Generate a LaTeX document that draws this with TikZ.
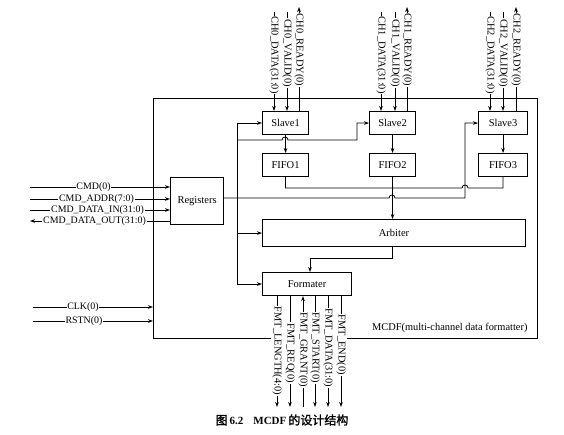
\documentclass[tikz,border=0pt]{standalone}
\usepackage{fontspec}
\setmainfont{Liberation Serif}
\newfontfamily\cjk{Noto Sans CJK SC}[FakeBold=1.5]
\usetikzlibrary{arrows.meta,calc}
\begin{document}
\begin{tikzpicture}[x=1pt,y=-1pt,
  blk/.style={draw, line width=1.1pt, inner sep=0pt, anchor=north west, font=\fontsize{10.5}{12}\selectfont},
  sig/.style={line width=0.8pt},
  arr/.style={sig,-{Stealth[length=5pt,width=3.6pt]}},
  rarr/.style={sig,{Stealth[length=5pt,width=3.6pt]}-},
  vlab/.style={rotate=-90, fill=white, inner sep=0.8pt, font=\fontsize{10.4}{12}\selectfont},
  hlab/.style={fill=white, inner sep=0.8pt, font=\fontsize{9.9}{12}\selectfont},
]
\useasboundingbox (0,0) rectangle (564,434);

% outer MCDF box (bottom edge broken by the FMT labels)
\draw[line width=0.9pt] (272,338) -- (153,338) -- (153,98) -- (537,98) -- (537,338) -- (345,338);
\coordinate (mcdfL) at (153,314);
\node[anchor=east, font=\fontsize{10.4}{12}\selectfont] (mcdflab) at (531,328) {MCDF(multi-channel data formatter)};

% blocks
\node[blk, minimum width=46pt, minimum height=23pt] (s1) at (262,111) {Slave1};
\node[blk, minimum width=46pt, minimum height=23pt] (s2) at (369,111) {Slave2};
\node[blk, minimum width=49pt, minimum height=23pt] (s3) at (478,111) {Slave3};
\node[blk, minimum width=46pt, minimum height=23pt] (f1) at (262,153) {FIFO1};
\node[blk, minimum width=46pt, minimum height=23pt] (f2) at (369,153) {FIFO2};
\node[blk, minimum width=49pt, minimum height=23pt] (f3) at (478,153) {FIFO3};
\node[blk, minimum width=53pt, minimum height=47pt] (reg) at (170,177) {Registers};
\node[blk, minimum width=263pt, minimum height=27pt] (arb) at (262,219) {Arbiter};
\node[blk, minimum width=89pt, minimum height=23pt] (fmt) at (262,272) {Formater};

% Slave -> FIFO
\draw[arr] (s1.south) -- (f1.north);
\draw[arr] (s2.south) -- (f2.north);
\draw[arr] (s3.south) -- (f3.north);

% FIFO outputs -> Arbiter
\coordinate (fj) at (f2.south |- 0,188);
\draw[sig] (f1.south) -- (f1.south |- fj) -- (462,188) .. controls (462,184) and (468,184) .. (468,188) -- (f3.south |- fj) -- (f3.south);
\draw[arr] (f2.south) -- (f2.south |- arb.north);

% control bus from Registers
\coordinate (bt) at (237,123);
\coordinate (bb) at (237,284);
\coordinate (rr) at (465,198);
\draw[arr] (bb) -- (bt) -- (s1.west |- bt);
\draw[arr] (bt |- arb.west) -- (arb.west);
\draw[arr] (bb) -- (fmt.west |- bb);
\draw[arr] (reg.east |- rr) -- (389,198) .. controls (389,194) and (395,194) .. (395,198) -- (rr) -- (rr |- s3.west) -- (s3.west);
\coordinate (s2r) at (357,140);
\draw[arr] (bt |- s2r) -- (282,140) .. controls (282,136) and (288,136) .. (288,140) -- (s2r) -- (s2r |- s2.west) -- (s2.west);

% Arbiter -> Formater
\coordinate (af) at (310,258);
\draw[arr] (arb.south -| 392,0) -- (392,258) -- (af) -- (af |- fmt.north);

% top channel signals
\foreach \n/\s/\dx/\vx/\rx in {0/s1/274/287/299, 1/s2/381/395/407, 2/s3/490/503/516} {
  \coordinate (chd\n) at (\dx,12);
  \coordinate (chv\n) at (\vx,12);
  \coordinate (chr\n) at (\rx,7);
  \draw[arr] (chd\n) -- (chd\n |- \s.north);
  \draw[arr] (chv\n) -- (chv\n |- \s.north);
  \draw[arr] (chr\n |- \s.north) -- (chr\n);
  \node[vlab] (lchd\n) at (\dx,55) {CH\n\_DATA(31:0)};
  \node[vlab] (lchv\n) at (\vx,53) {CH\n\_VALID(0)};
  \node[vlab] (lchr\n) at (\rx,50) {CH\n\_READY(0)};
}

% left command interface
\coordinate (c1) at (30,187);
\coordinate (c2) at (30,199);
\coordinate (c3) at (30,210);
\coordinate (c4) at (30,221);
\draw[arr] (c1) -- (c1 -| reg.west);
\draw[arr] (c2) -- (c2 -| reg.west);
\draw[arr] (c3) -- (c3 -| reg.west);
\draw[arr] (c4 -| reg.west) -- (c4);
\node[hlab] (lc1) at (93.5,187) {CMD(0)};
\node[hlab] (lc2) at (96.5,199) {CMD\_ADDR(7:0)};
\node[hlab] (lc3) at (97.5,210) {CMD\_DATA\_IN(31:0)};
\node[hlab] (lc4) at (94.5,221) {CMD\_DATA\_OUT(31:0)};

% clock and reset
\coordinate (clk) at (33,307);
\coordinate (rst) at (33,321);
\draw[arr] (clk) -- (clk -| mcdfL);
\draw[arr] (rst) -- (rst -| mcdfL);
\node[hlab] (lclk) at (83,307) {CLK(0)};
\node[hlab] (lrst) at (84,321) {RSTN(0)};

% formatter outputs
\foreach \i/\x in {1/277, 2/290, 3/303, 4/315, 5/328, 6/341} {
  \coordinate (fo\i) at (\x,407);
}
\draw[arr] (fo1 |- fmt.south) -- (fo1);
\draw[arr] (fo2 |- fmt.south) -- (fo2);
\draw[rarr] (fo3 |- fmt.south) -- (fo3);
\draw[arr] (fo4 |- fmt.south) -- (fo4);
\draw[arr] (fo5 |- fmt.south) -- (fo5);
\draw[arr] (fo6 |- fmt.south) -- (fo6);
\node[vlab] (lfo1) at (277,351) {FMT\_LENGTH(4:0)};
\node[vlab] (lfo2) at (290,353) {FMT\_REQ(0)};
\node[vlab] (lfo3) at (303,350) {FMT\_GRANT(0)};
\node[vlab] (lfo4) at (315,348) {FMT\_START(0)};
\node[vlab] (lfo5) at (328,348) {FMT\_DATA(31:0)};
\node[vlab] (lfo6) at (341,345) {FMT\_END(0)};

% caption
\node[inner sep=0pt] (cap) at (282,420) {{\fontsize{12}{14}\selectfont\cjk 图}\hspace{2pt}{\fontsize{11}{14}\selectfont\bfseries 6.2\hspace{10pt}MCDF}\hspace{2pt}{\fontsize{12}{14}\selectfont\cjk 的设计结构}};
\end{tikzpicture}
\end{document}
